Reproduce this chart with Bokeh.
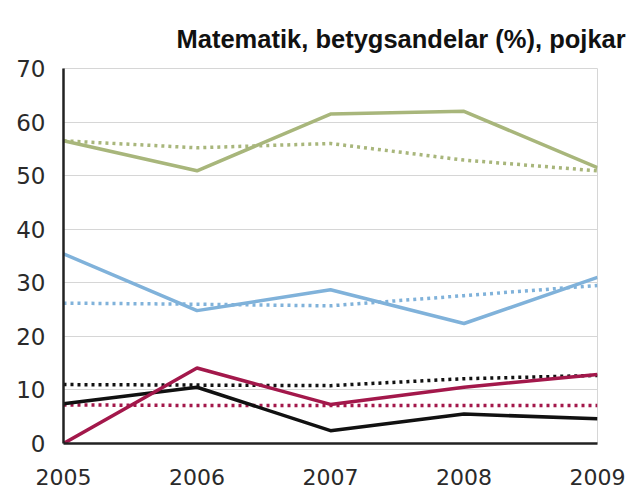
from bokeh.plotting import figure
from bokeh.models import Range1d, FixedTicker
from bokeh.embed import file_html
from bokeh.resources import INLINE

title_text = "Matematik, betygsandelar (%), pojkar"
years = [2005, 2006, 2007, 2008, 2009]
green_solid = [56.5, 50.9, 61.5, 62.0, 51.5]
green_dotted = [56.5, 55.2, 56.0, 52.9, 50.9]
blue_solid = [35.4, 24.8, 28.7, 22.4, 31.0]
blue_dotted = [26.2, 26.0, 25.7, 27.6, 29.5]
red_solid = [0.0, 14.1, 7.3, 10.5, 12.9]
red_dotted = [7.2, 7.1, 7.1, 7.1, 7.1]
black_solid = [7.4, 10.5, 2.4, 5.5, 4.6]
black_dotted = [11.0, 10.9, 10.8, 12.1, 12.7]
y_ticks = [0, 10, 20, 30, 40, 50, 60, 70]

p = figure(width=632, height=488, output_backend="svg", toolbar_location=None,
           x_range=Range1d(2005, 2009), y_range=Range1d(0, 70),
           min_border_left=63, min_border_right=35, min_border_top=68, min_border_bottom=45)

p.title.text = title_text
p.title.text_font = "Liberation Sans"
p.title.text_font_size = "25.5px"
p.title.text_font_style = "bold"
p.title.text_color = "#111111"
p.title.align = "left"
p.title.offset = 113
p.title.standoff = 28
p.title.vertical_align = "top"

green = "#a8b67b"
blue = "#80b2da"
red = "#a3184b"
black = "#111111"

for ys, col in [(green_dotted, green), (blue_dotted, blue), (red_dotted, red), (black_dotted, black)]:
    p.line(years, ys, line_color=col, line_width=3.5, line_dash="3 4")
for ys, col in [(green_solid, green), (blue_solid, blue), (black_solid, black), (red_solid, red)]:
    p.line(years, ys, line_color=col, line_width=3.5)

p.xgrid.visible = False
p.ygrid.grid_line_color = "#d6d6d6"
p.ygrid.grid_line_width = 1
p.ygrid.ticker = FixedTicker(ticks=y_ticks)
p.yaxis.ticker = FixedTicker(ticks=y_ticks)
p.xaxis.ticker = FixedTicker(ticks=years)

p.outline_line_color = "#d6d6d6"
for ax in (p.xaxis[0], p.yaxis[0]):
    ax.axis_line_color = "#222222"
    ax.axis_line_width = 2.5
    ax.major_tick_line_color = None
    ax.minor_tick_line_color = None
    ax.major_label_text_font = "DejaVu Sans"
    ax.major_label_text_font_size = "23px"
    ax.major_label_text_color = "#2a2a2a"
p.xaxis.major_label_text_font_size = "22px"
p.yaxis.major_label_standoff = 12
p.xaxis.major_label_standoff = 19

open("out.html", "w").write(file_html(p, INLINE))
